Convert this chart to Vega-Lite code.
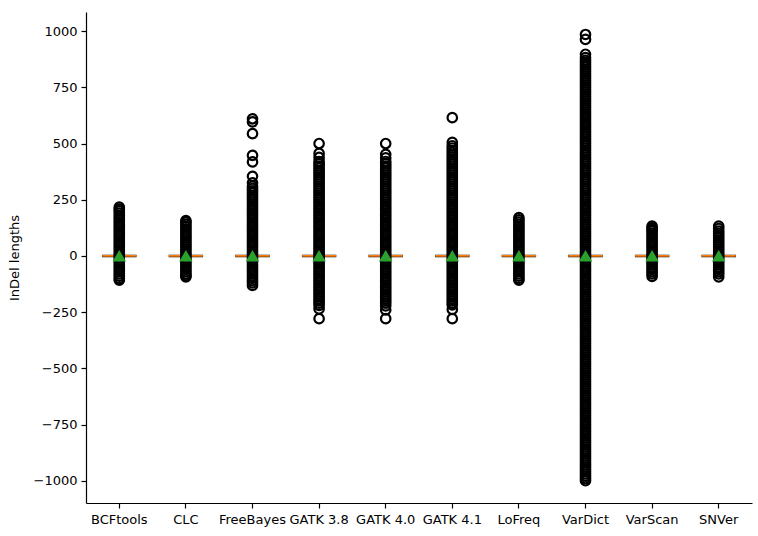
{
 "$schema": "https://vega.github.io/schema/vega-lite/v6.json",
 "autosize": {"type": "none"},
 "padding": {"left": 86, "top": 12, "right": 6, "bottom": 33},
 "width": 666,
 "height": 491,
 "background": "white",
 "config": {
  "view": {"stroke": null},
  "font": "DejaVu Sans",
  "axis": {"domainColor": "black", "domainWidth": 1.2, "tickColor": "black", "tickSize": 5, "tickWidth": 1.2, "labelFont": "DejaVu Sans", "labelFontSize": 13, "labelColor": "black", "grid": false, "titleFont": "DejaVu Sans", "titleFontSize": 13, "titleFontWeight": "normal", "titleColor": "black"}
 },
 "datasets": {
  "stats": [
   {"t":"BCFtools","q1":-3,"q3":3,"med":0,"mean":1},
   {"t":"CLC","q1":-3,"q3":3,"med":0,"mean":1},
   {"t":"FreeBayes","q1":-3,"q3":3,"med":0,"mean":1},
   {"t":"GATK 3.8","q1":-3,"q3":3,"med":0,"mean":1},
   {"t":"GATK 4.0","q1":-3,"q3":3,"med":0,"mean":1},
   {"t":"GATK 4.1","q1":-3,"q3":3,"med":0,"mean":1},
   {"t":"LoFreq","q1":-3,"q3":3,"med":0,"mean":1},
   {"t":"VarDict","q1":-3,"q3":3,"med":0,"mean":1},
   {"t":"VarScan","q1":-3,"q3":3,"med":0,"mean":1},
   {"t":"SNVer","q1":-3,"q3":3,"med":0,"mean":1}
  ],
  "fliers": [
   {"t":"BCFtools","v":217},{"t":"BCFtools","v":208},{"t":"BCFtools","v":200},{"t":"BCFtools","v":190},{"t":"BCFtools","v":180},{"t":"BCFtools","v":170},{"t":"BCFtools","v":160},{"t":"BCFtools","v":150},{"t":"BCFtools","v":140},{"t":"BCFtools","v":130},{"t":"BCFtools","v":120},{"t":"BCFtools","v":110},{"t":"BCFtools","v":100},{"t":"BCFtools","v":90},{"t":"BCFtools","v":80},{"t":"BCFtools","v":70},{"t":"BCFtools","v":60},{"t":"BCFtools","v":50},{"t":"BCFtools","v":40},{"t":"BCFtools","v":30},{"t":"BCFtools","v":20},{"t":"BCFtools","v":10},{"t":"BCFtools","v":0},{"t":"BCFtools","v":-10},{"t":"BCFtools","v":-20},{"t":"BCFtools","v":-30},{"t":"BCFtools","v":-40},{"t":"BCFtools","v":-50},{"t":"BCFtools","v":-60},{"t":"BCFtools","v":-70},{"t":"BCFtools","v":-80},{"t":"BCFtools","v":-90},{"t":"BCFtools","v":-100},{"t":"BCFtools","v":-108},
   {"t":"CLC","v":157},{"t":"CLC","v":150},{"t":"CLC","v":140},{"t":"CLC","v":130},{"t":"CLC","v":120},{"t":"CLC","v":110},{"t":"CLC","v":100},{"t":"CLC","v":90},{"t":"CLC","v":80},{"t":"CLC","v":70},{"t":"CLC","v":60},{"t":"CLC","v":50},{"t":"CLC","v":40},{"t":"CLC","v":30},{"t":"CLC","v":20},{"t":"CLC","v":10},{"t":"CLC","v":0},{"t":"CLC","v":-10},{"t":"CLC","v":-20},{"t":"CLC","v":-30},{"t":"CLC","v":-40},{"t":"CLC","v":-50},{"t":"CLC","v":-60},{"t":"CLC","v":-70},{"t":"CLC","v":-80},{"t":"CLC","v":-88},{"t":"CLC","v":-93},
   {"t":"FreeBayes","v":610},{"t":"FreeBayes","v":596},{"t":"FreeBayes","v":544},{"t":"FreeBayes","v":447},{"t":"FreeBayes","v":418},{"t":"FreeBayes","v":354},{"t":"FreeBayes","v":325},{"t":"FreeBayes","v":310},{"t":"FreeBayes","v":300},{"t":"FreeBayes","v":290},{"t":"FreeBayes","v":280},{"t":"FreeBayes","v":270},{"t":"FreeBayes","v":260},{"t":"FreeBayes","v":250},{"t":"FreeBayes","v":240},{"t":"FreeBayes","v":230},{"t":"FreeBayes","v":220},{"t":"FreeBayes","v":210},{"t":"FreeBayes","v":200},{"t":"FreeBayes","v":190},{"t":"FreeBayes","v":180},{"t":"FreeBayes","v":170},{"t":"FreeBayes","v":160},{"t":"FreeBayes","v":150},{"t":"FreeBayes","v":140},{"t":"FreeBayes","v":130},{"t":"FreeBayes","v":120},{"t":"FreeBayes","v":110},{"t":"FreeBayes","v":100},{"t":"FreeBayes","v":90},{"t":"FreeBayes","v":80},{"t":"FreeBayes","v":70},{"t":"FreeBayes","v":60},{"t":"FreeBayes","v":50},{"t":"FreeBayes","v":40},{"t":"FreeBayes","v":30},{"t":"FreeBayes","v":20},{"t":"FreeBayes","v":10},{"t":"FreeBayes","v":0},{"t":"FreeBayes","v":-10},{"t":"FreeBayes","v":-20},{"t":"FreeBayes","v":-30},{"t":"FreeBayes","v":-40},{"t":"FreeBayes","v":-50},{"t":"FreeBayes","v":-60},{"t":"FreeBayes","v":-70},{"t":"FreeBayes","v":-80},{"t":"FreeBayes","v":-90},{"t":"FreeBayes","v":-100},{"t":"FreeBayes","v":-110},{"t":"FreeBayes","v":-120},{"t":"FreeBayes","v":-131},
   {"t":"GATK 3.8","v":500},{"t":"GATK 3.8","v":456},{"t":"GATK 3.8","v":438},{"t":"GATK 3.8","v":420},{"t":"GATK 3.8","v":410},{"t":"GATK 3.8","v":400},{"t":"GATK 3.8","v":390},{"t":"GATK 3.8","v":380},{"t":"GATK 3.8","v":370},{"t":"GATK 3.8","v":360},{"t":"GATK 3.8","v":350},{"t":"GATK 3.8","v":340},{"t":"GATK 3.8","v":330},{"t":"GATK 3.8","v":320},{"t":"GATK 3.8","v":310},{"t":"GATK 3.8","v":300},{"t":"GATK 3.8","v":290},{"t":"GATK 3.8","v":280},{"t":"GATK 3.8","v":270},{"t":"GATK 3.8","v":260},{"t":"GATK 3.8","v":250},{"t":"GATK 3.8","v":240},{"t":"GATK 3.8","v":230},{"t":"GATK 3.8","v":220},{"t":"GATK 3.8","v":210},{"t":"GATK 3.8","v":200},{"t":"GATK 3.8","v":190},{"t":"GATK 3.8","v":180},{"t":"GATK 3.8","v":170},{"t":"GATK 3.8","v":160},{"t":"GATK 3.8","v":150},{"t":"GATK 3.8","v":140},{"t":"GATK 3.8","v":130},{"t":"GATK 3.8","v":120},{"t":"GATK 3.8","v":110},{"t":"GATK 3.8","v":100},{"t":"GATK 3.8","v":90},{"t":"GATK 3.8","v":80},{"t":"GATK 3.8","v":70},{"t":"GATK 3.8","v":60},{"t":"GATK 3.8","v":50},{"t":"GATK 3.8","v":40},{"t":"GATK 3.8","v":30},{"t":"GATK 3.8","v":20},{"t":"GATK 3.8","v":10},{"t":"GATK 3.8","v":0},{"t":"GATK 3.8","v":-10},{"t":"GATK 3.8","v":-20},{"t":"GATK 3.8","v":-30},{"t":"GATK 3.8","v":-40},{"t":"GATK 3.8","v":-50},{"t":"GATK 3.8","v":-60},{"t":"GATK 3.8","v":-70},{"t":"GATK 3.8","v":-80},{"t":"GATK 3.8","v":-90},{"t":"GATK 3.8","v":-100},{"t":"GATK 3.8","v":-110},{"t":"GATK 3.8","v":-120},{"t":"GATK 3.8","v":-130},{"t":"GATK 3.8","v":-140},{"t":"GATK 3.8","v":-150},{"t":"GATK 3.8","v":-160},{"t":"GATK 3.8","v":-170},{"t":"GATK 3.8","v":-180},{"t":"GATK 3.8","v":-190},{"t":"GATK 3.8","v":-200},{"t":"GATK 3.8","v":-210},{"t":"GATK 3.8","v":-220},{"t":"GATK 3.8","v":-236},{"t":"GATK 3.8","v":-279},
   {"t":"GATK 4.0","v":500},{"t":"GATK 4.0","v":452},{"t":"GATK 4.0","v":436},{"t":"GATK 4.0","v":420},{"t":"GATK 4.0","v":410},{"t":"GATK 4.0","v":400},{"t":"GATK 4.0","v":390},{"t":"GATK 4.0","v":380},{"t":"GATK 4.0","v":370},{"t":"GATK 4.0","v":360},{"t":"GATK 4.0","v":350},{"t":"GATK 4.0","v":340},{"t":"GATK 4.0","v":330},{"t":"GATK 4.0","v":320},{"t":"GATK 4.0","v":310},{"t":"GATK 4.0","v":300},{"t":"GATK 4.0","v":290},{"t":"GATK 4.0","v":280},{"t":"GATK 4.0","v":270},{"t":"GATK 4.0","v":260},{"t":"GATK 4.0","v":250},{"t":"GATK 4.0","v":240},{"t":"GATK 4.0","v":230},{"t":"GATK 4.0","v":220},{"t":"GATK 4.0","v":210},{"t":"GATK 4.0","v":200},{"t":"GATK 4.0","v":190},{"t":"GATK 4.0","v":180},{"t":"GATK 4.0","v":170},{"t":"GATK 4.0","v":160},{"t":"GATK 4.0","v":150},{"t":"GATK 4.0","v":140},{"t":"GATK 4.0","v":130},{"t":"GATK 4.0","v":120},{"t":"GATK 4.0","v":110},{"t":"GATK 4.0","v":100},{"t":"GATK 4.0","v":90},{"t":"GATK 4.0","v":80},{"t":"GATK 4.0","v":70},{"t":"GATK 4.0","v":60},{"t":"GATK 4.0","v":50},{"t":"GATK 4.0","v":40},{"t":"GATK 4.0","v":30},{"t":"GATK 4.0","v":20},{"t":"GATK 4.0","v":10},{"t":"GATK 4.0","v":0},{"t":"GATK 4.0","v":-10},{"t":"GATK 4.0","v":-20},{"t":"GATK 4.0","v":-30},{"t":"GATK 4.0","v":-40},{"t":"GATK 4.0","v":-50},{"t":"GATK 4.0","v":-60},{"t":"GATK 4.0","v":-70},{"t":"GATK 4.0","v":-80},{"t":"GATK 4.0","v":-90},{"t":"GATK 4.0","v":-100},{"t":"GATK 4.0","v":-110},{"t":"GATK 4.0","v":-120},{"t":"GATK 4.0","v":-130},{"t":"GATK 4.0","v":-140},{"t":"GATK 4.0","v":-150},{"t":"GATK 4.0","v":-160},{"t":"GATK 4.0","v":-170},{"t":"GATK 4.0","v":-180},{"t":"GATK 4.0","v":-190},{"t":"GATK 4.0","v":-200},{"t":"GATK 4.0","v":-210},{"t":"GATK 4.0","v":-222},{"t":"GATK 4.0","v":-240},{"t":"GATK 4.0","v":-279},
   {"t":"GATK 4.1","v":615},{"t":"GATK 4.1","v":505},{"t":"GATK 4.1","v":490},{"t":"GATK 4.1","v":480},{"t":"GATK 4.1","v":470},{"t":"GATK 4.1","v":460},{"t":"GATK 4.1","v":450},{"t":"GATK 4.1","v":440},{"t":"GATK 4.1","v":430},{"t":"GATK 4.1","v":420},{"t":"GATK 4.1","v":410},{"t":"GATK 4.1","v":400},{"t":"GATK 4.1","v":390},{"t":"GATK 4.1","v":380},{"t":"GATK 4.1","v":370},{"t":"GATK 4.1","v":360},{"t":"GATK 4.1","v":350},{"t":"GATK 4.1","v":340},{"t":"GATK 4.1","v":330},{"t":"GATK 4.1","v":320},{"t":"GATK 4.1","v":310},{"t":"GATK 4.1","v":300},{"t":"GATK 4.1","v":290},{"t":"GATK 4.1","v":280},{"t":"GATK 4.1","v":270},{"t":"GATK 4.1","v":260},{"t":"GATK 4.1","v":250},{"t":"GATK 4.1","v":240},{"t":"GATK 4.1","v":230},{"t":"GATK 4.1","v":220},{"t":"GATK 4.1","v":210},{"t":"GATK 4.1","v":200},{"t":"GATK 4.1","v":190},{"t":"GATK 4.1","v":180},{"t":"GATK 4.1","v":170},{"t":"GATK 4.1","v":160},{"t":"GATK 4.1","v":150},{"t":"GATK 4.1","v":140},{"t":"GATK 4.1","v":130},{"t":"GATK 4.1","v":120},{"t":"GATK 4.1","v":110},{"t":"GATK 4.1","v":100},{"t":"GATK 4.1","v":90},{"t":"GATK 4.1","v":80},{"t":"GATK 4.1","v":70},{"t":"GATK 4.1","v":60},{"t":"GATK 4.1","v":50},{"t":"GATK 4.1","v":40},{"t":"GATK 4.1","v":30},{"t":"GATK 4.1","v":20},{"t":"GATK 4.1","v":10},{"t":"GATK 4.1","v":0},{"t":"GATK 4.1","v":-10},{"t":"GATK 4.1","v":-20},{"t":"GATK 4.1","v":-30},{"t":"GATK 4.1","v":-40},{"t":"GATK 4.1","v":-50},{"t":"GATK 4.1","v":-60},{"t":"GATK 4.1","v":-70},{"t":"GATK 4.1","v":-80},{"t":"GATK 4.1","v":-90},{"t":"GATK 4.1","v":-100},{"t":"GATK 4.1","v":-110},{"t":"GATK 4.1","v":-120},{"t":"GATK 4.1","v":-130},{"t":"GATK 4.1","v":-140},{"t":"GATK 4.1","v":-150},{"t":"GATK 4.1","v":-160},{"t":"GATK 4.1","v":-170},{"t":"GATK 4.1","v":-180},{"t":"GATK 4.1","v":-190},{"t":"GATK 4.1","v":-200},{"t":"GATK 4.1","v":-210},{"t":"GATK 4.1","v":-218},{"t":"GATK 4.1","v":-238},{"t":"GATK 4.1","v":-279},
   {"t":"LoFreq","v":170},{"t":"LoFreq","v":160},{"t":"LoFreq","v":150},{"t":"LoFreq","v":140},{"t":"LoFreq","v":130},{"t":"LoFreq","v":120},{"t":"LoFreq","v":110},{"t":"LoFreq","v":100},{"t":"LoFreq","v":90},{"t":"LoFreq","v":80},{"t":"LoFreq","v":70},{"t":"LoFreq","v":60},{"t":"LoFreq","v":50},{"t":"LoFreq","v":40},{"t":"LoFreq","v":30},{"t":"LoFreq","v":20},{"t":"LoFreq","v":10},{"t":"LoFreq","v":0},{"t":"LoFreq","v":-10},{"t":"LoFreq","v":-20},{"t":"LoFreq","v":-30},{"t":"LoFreq","v":-40},{"t":"LoFreq","v":-50},{"t":"LoFreq","v":-60},{"t":"LoFreq","v":-70},{"t":"LoFreq","v":-80},{"t":"LoFreq","v":-90},{"t":"LoFreq","v":-100},{"t":"LoFreq","v":-108},
   {"t":"VarDict","v":985},{"t":"VarDict","v":963},{"t":"VarDict","v":897},{"t":"VarDict","v":882},{"t":"VarDict","v":870},{"t":"VarDict","v":860},{"t":"VarDict","v":850},{"t":"VarDict","v":840},{"t":"VarDict","v":830},{"t":"VarDict","v":820},{"t":"VarDict","v":810},{"t":"VarDict","v":800},{"t":"VarDict","v":790},{"t":"VarDict","v":780},{"t":"VarDict","v":770},{"t":"VarDict","v":760},{"t":"VarDict","v":750},{"t":"VarDict","v":740},{"t":"VarDict","v":730},{"t":"VarDict","v":720},{"t":"VarDict","v":710},{"t":"VarDict","v":700},{"t":"VarDict","v":690},{"t":"VarDict","v":680},{"t":"VarDict","v":670},{"t":"VarDict","v":660},{"t":"VarDict","v":650},{"t":"VarDict","v":640},{"t":"VarDict","v":630},{"t":"VarDict","v":620},{"t":"VarDict","v":610},{"t":"VarDict","v":600},{"t":"VarDict","v":590},{"t":"VarDict","v":580},{"t":"VarDict","v":570},{"t":"VarDict","v":560},{"t":"VarDict","v":550},{"t":"VarDict","v":540},{"t":"VarDict","v":530},{"t":"VarDict","v":520},{"t":"VarDict","v":510},{"t":"VarDict","v":500},{"t":"VarDict","v":490},{"t":"VarDict","v":480},{"t":"VarDict","v":470},{"t":"VarDict","v":460},{"t":"VarDict","v":450},{"t":"VarDict","v":440},{"t":"VarDict","v":430},{"t":"VarDict","v":420},{"t":"VarDict","v":410},{"t":"VarDict","v":400},{"t":"VarDict","v":390},{"t":"VarDict","v":380},{"t":"VarDict","v":370},{"t":"VarDict","v":360},{"t":"VarDict","v":350},{"t":"VarDict","v":340},{"t":"VarDict","v":330},{"t":"VarDict","v":320},{"t":"VarDict","v":310},{"t":"VarDict","v":300},{"t":"VarDict","v":290},{"t":"VarDict","v":280},{"t":"VarDict","v":270},{"t":"VarDict","v":260},{"t":"VarDict","v":250},{"t":"VarDict","v":240},{"t":"VarDict","v":230},{"t":"VarDict","v":220},{"t":"VarDict","v":210},{"t":"VarDict","v":200},{"t":"VarDict","v":190},{"t":"VarDict","v":180},{"t":"VarDict","v":170},{"t":"VarDict","v":160},{"t":"VarDict","v":150},{"t":"VarDict","v":140},{"t":"VarDict","v":130},{"t":"VarDict","v":120},{"t":"VarDict","v":110},{"t":"VarDict","v":100},{"t":"VarDict","v":90},{"t":"VarDict","v":80},{"t":"VarDict","v":70},{"t":"VarDict","v":60},{"t":"VarDict","v":50},{"t":"VarDict","v":40},{"t":"VarDict","v":30},{"t":"VarDict","v":20},{"t":"VarDict","v":10},{"t":"VarDict","v":0},{"t":"VarDict","v":-10},{"t":"VarDict","v":-20},{"t":"VarDict","v":-30},{"t":"VarDict","v":-40},{"t":"VarDict","v":-50},{"t":"VarDict","v":-60},{"t":"VarDict","v":-70},{"t":"VarDict","v":-80},{"t":"VarDict","v":-90},{"t":"VarDict","v":-100},{"t":"VarDict","v":-110},{"t":"VarDict","v":-120},{"t":"VarDict","v":-130},{"t":"VarDict","v":-140},{"t":"VarDict","v":-150},{"t":"VarDict","v":-160},{"t":"VarDict","v":-170},{"t":"VarDict","v":-180},{"t":"VarDict","v":-190},{"t":"VarDict","v":-200},{"t":"VarDict","v":-210},{"t":"VarDict","v":-220},{"t":"VarDict","v":-230},{"t":"VarDict","v":-240},{"t":"VarDict","v":-250},{"t":"VarDict","v":-260},{"t":"VarDict","v":-270},{"t":"VarDict","v":-280},{"t":"VarDict","v":-290},{"t":"VarDict","v":-300},{"t":"VarDict","v":-310},{"t":"VarDict","v":-320},{"t":"VarDict","v":-330},{"t":"VarDict","v":-340},{"t":"VarDict","v":-350},{"t":"VarDict","v":-360},{"t":"VarDict","v":-370},{"t":"VarDict","v":-380},{"t":"VarDict","v":-390},{"t":"VarDict","v":-400},{"t":"VarDict","v":-410},{"t":"VarDict","v":-420},{"t":"VarDict","v":-430},{"t":"VarDict","v":-440},{"t":"VarDict","v":-450},{"t":"VarDict","v":-460},{"t":"VarDict","v":-470},{"t":"VarDict","v":-480},{"t":"VarDict","v":-490},{"t":"VarDict","v":-500},{"t":"VarDict","v":-510},{"t":"VarDict","v":-520},{"t":"VarDict","v":-530},{"t":"VarDict","v":-540},{"t":"VarDict","v":-550},{"t":"VarDict","v":-560},{"t":"VarDict","v":-570},{"t":"VarDict","v":-580},{"t":"VarDict","v":-590},{"t":"VarDict","v":-600},{"t":"VarDict","v":-610},{"t":"VarDict","v":-620},{"t":"VarDict","v":-630},{"t":"VarDict","v":-640},{"t":"VarDict","v":-650},{"t":"VarDict","v":-660},{"t":"VarDict","v":-670},{"t":"VarDict","v":-680},{"t":"VarDict","v":-690},{"t":"VarDict","v":-700},{"t":"VarDict","v":-710},{"t":"VarDict","v":-720},{"t":"VarDict","v":-730},{"t":"VarDict","v":-740},{"t":"VarDict","v":-750},{"t":"VarDict","v":-760},{"t":"VarDict","v":-770},{"t":"VarDict","v":-780},{"t":"VarDict","v":-790},{"t":"VarDict","v":-800},{"t":"VarDict","v":-810},{"t":"VarDict","v":-820},{"t":"VarDict","v":-830},{"t":"VarDict","v":-840},{"t":"VarDict","v":-850},{"t":"VarDict","v":-860},{"t":"VarDict","v":-870},{"t":"VarDict","v":-880},{"t":"VarDict","v":-890},{"t":"VarDict","v":-900},{"t":"VarDict","v":-910},{"t":"VarDict","v":-920},{"t":"VarDict","v":-930},{"t":"VarDict","v":-940},{"t":"VarDict","v":-950},{"t":"VarDict","v":-960},{"t":"VarDict","v":-970},{"t":"VarDict","v":-980},{"t":"VarDict","v":-990},{"t":"VarDict","v":-1000},
   {"t":"VarScan","v":133},{"t":"VarScan","v":125},{"t":"VarScan","v":117},{"t":"VarScan","v":110},{"t":"VarScan","v":100},{"t":"VarScan","v":90},{"t":"VarScan","v":80},{"t":"VarScan","v":70},{"t":"VarScan","v":60},{"t":"VarScan","v":50},{"t":"VarScan","v":40},{"t":"VarScan","v":30},{"t":"VarScan","v":20},{"t":"VarScan","v":10},{"t":"VarScan","v":0},{"t":"VarScan","v":-10},{"t":"VarScan","v":-20},{"t":"VarScan","v":-30},{"t":"VarScan","v":-40},{"t":"VarScan","v":-50},{"t":"VarScan","v":-60},{"t":"VarScan","v":-70},{"t":"VarScan","v":-80},{"t":"VarScan","v":-91},
   {"t":"SNVer","v":133},{"t":"SNVer","v":122},{"t":"SNVer","v":110},{"t":"SNVer","v":100},{"t":"SNVer","v":90},{"t":"SNVer","v":80},{"t":"SNVer","v":70},{"t":"SNVer","v":60},{"t":"SNVer","v":50},{"t":"SNVer","v":40},{"t":"SNVer","v":30},{"t":"SNVer","v":20},{"t":"SNVer","v":10},{"t":"SNVer","v":0},{"t":"SNVer","v":-10},{"t":"SNVer","v":-20},{"t":"SNVer","v":-30},{"t":"SNVer","v":-40},{"t":"SNVer","v":-50},{"t":"SNVer","v":-60},{"t":"SNVer","v":-70},{"t":"SNVer","v":-80},{"t":"SNVer","v":-93}
  ]
 },
 "layer": [
  {
   "data": {"name": "stats"},
   "mark": {"type": "bar", "width": {"band": 0.5}, "fill": null, "fillOpacity": 0, "stroke": "black", "strokeWidth": 1.1},
   "encoding": {
    "x": {"field": "t", "type": "nominal", "title": null, "scale": {"type": "band", "paddingInner": 0, "paddingOuter": 0, "domain": ["BCFtools","CLC","FreeBayes","GATK 3.8","GATK 4.0","GATK 4.1","LoFreq","VarDict","VarScan","SNVer"]}, "axis": {"labelAngle": 0, "labelPadding": 5}},
    "y": {"field": "q1", "type": "quantitative", "title": "InDel lengths", "scale": {"domain": [-1099, 1085], "nice": false, "zero": false}, "axis": {"values": [-1000,-750,-500,-250,0,250,500,750,1000], "format": "d", "labelPadding": 4, "titlePadding": 12}},
    "y2": {"field": "q3"}
   }
  },
  {
   "data": {"name": "stats"},
   "mark": {"type": "tick", "orient": "horizontal", "size": 34, "thickness": 1.8, "color": "#ff7f0e", "opacity": 1},
   "encoding": {
    "x": {"field": "t", "type": "nominal", "title": null},
    "y": {"field": "med", "type": "quantitative", "title": "InDel lengths"}
   }
  },
  {
   "data": {"name": "fliers"},
   "mark": {"type": "point", "shape": "circle", "filled": false, "stroke": "black", "strokeWidth": 2.2, "size": 90, "opacity": 1},
   "encoding": {
    "x": {"field": "t", "type": "nominal", "title": null},
    "y": {"field": "v", "type": "quantitative", "title": "InDel lengths"}
   }
  },
  {
   "data": {"name": "stats"},
   "mark": {"type": "point", "shape": "triangle-up", "filled": true, "color": "#2ca02c", "size": 180, "opacity": 1, "strokeWidth": 0},
   "encoding": {
    "x": {"field": "t", "type": "nominal", "title": null},
    "y": {"field": "mean", "type": "quantitative", "title": "InDel lengths"}
   }
  }
 ]
}
